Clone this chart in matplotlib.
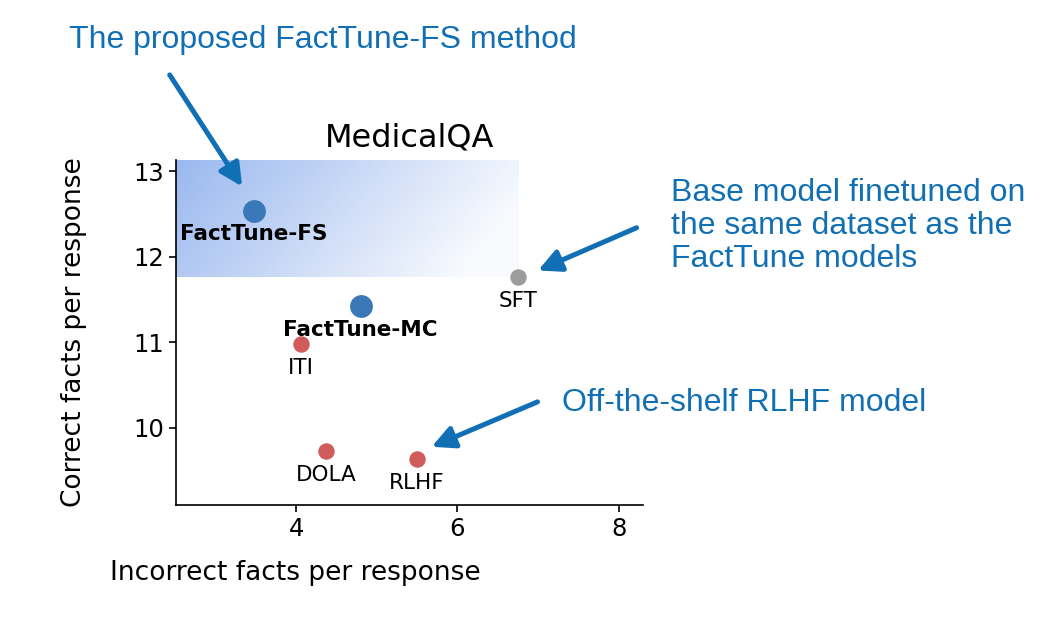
import matplotlib
matplotlib.use("Agg")
import matplotlib.pyplot as plt
import numpy as np

### data
methods = ["FactTune-FS", "FactTune-MC", "SFT", "ITI", "DOLA", "RLHF"]
incorrect = [3.48, 4.80, 6.75, 4.06, 4.37, 5.50]
correct = [12.54, 11.42, 11.76, 10.98, 9.73, 9.64]
kind = ["ours", "ours", "sft", "base", "base", "base"]

x_ticks = [4, 6, 8]
y_ticks = [10, 11, 12, 13]

BLUE = "#3b78b8"
RED = "#d05b5b"
GREY = "#9c9c9c"
NOTE = "#1170b5"

colours = {"ours": BLUE, "sft": GREY, "base": RED}
sizes = {"ours": 270, "sft": 140, "base": 140}

fig = plt.figure(figsize=(10.54, 6.24), dpi=100)
ax = fig.add_axes([0.167, 0.1907, 0.443, 0.5529])
ax.set_xlim(2.51, 8.30)
ax.set_ylim(9.10, 13.13)

### gradient highlight region
gx = np.linspace(0, 1, 300)
gy = np.linspace(0, 1, 120)
GX, GY = np.meshgrid(gx, gy)
fade = np.clip(1.0 - (0.9 * GX + 0.25 * (1 - GY)), 0, 1)
rgba = np.zeros(GX.shape + (4,))
rgba[..., 0] = 0.36
rgba[..., 1] = 0.55
rgba[..., 2] = 0.90
rgba[..., 3] = 0.04 + 0.58 * fade
ax.imshow(rgba, origin="lower", extent=[2.51, 6.76, 11.76, 13.13],
          aspect="auto", zorder=0, interpolation="bilinear")

for name, xv, yv, k in zip(methods, incorrect, correct, kind):
    ax.scatter(xv, yv, s=sizes[k], color=colours[k], zorder=3, linewidths=0)
    ax.annotate(name, (xv, yv), xytext=(0, -10), textcoords="offset points",
                ha="center", va="top", fontsize=15.5,
                fontweight="bold" if k == "ours" else "normal", zorder=4)

ax.set_xticks(x_ticks)
ax.set_yticks(y_ticks)
ax.tick_params(labelsize=17.5, length=5, width=1.2)
for side in ["top", "right"]:
    ax.spines[side].set_visible(False)
for side in ["left", "bottom"]:
    ax.spines[side].set_linewidth(1.2)

ax.set_title("MedicalQA", fontsize=23, pad=10)
ax.set_ylabel("Correct facts per response", fontsize=19)
ax.set_xlabel("Incorrect facts per response", fontsize=19)
ax.xaxis.set_label_coords(0.255, -0.158)
ax.yaxis.set_label_coords(-0.19, 0.5)

### call-outs
note_font = dict(color=NOTE, fontsize=23, family="Liberation Sans")
fig.text(0.065, 0.936, "The proposed FactTune-FS method", va="center", **note_font)
fig.text(0.637, 0.638, "Base model finetuned on\nthe same dataset as the\nFactTune models",
         va="center", linespacing=1.12, **note_font)
fig.text(0.533, 0.354, "Off-the-shelf RLHF model", va="center", **note_font)

arrow = dict(arrowstyle="-|>", color=NOTE, lw=3.6, mutation_scale=34,
             shrinkA=0, shrinkB=0)
ax.annotate("", xy=(3.33, 12.82), xytext=(0.161, 0.880),
            textcoords="figure fraction", arrowprops=arrow)
ax.annotate("", xy=(7.0, 11.84), xytext=(0.604, 0.635),
            textcoords="figure fraction", arrowprops=arrow)
ax.annotate("", xy=(5.68, 9.78), xytext=(0.510, 0.356),
            textcoords="figure fraction", arrowprops=arrow)

fig.savefig("out.png", dpi=100)
